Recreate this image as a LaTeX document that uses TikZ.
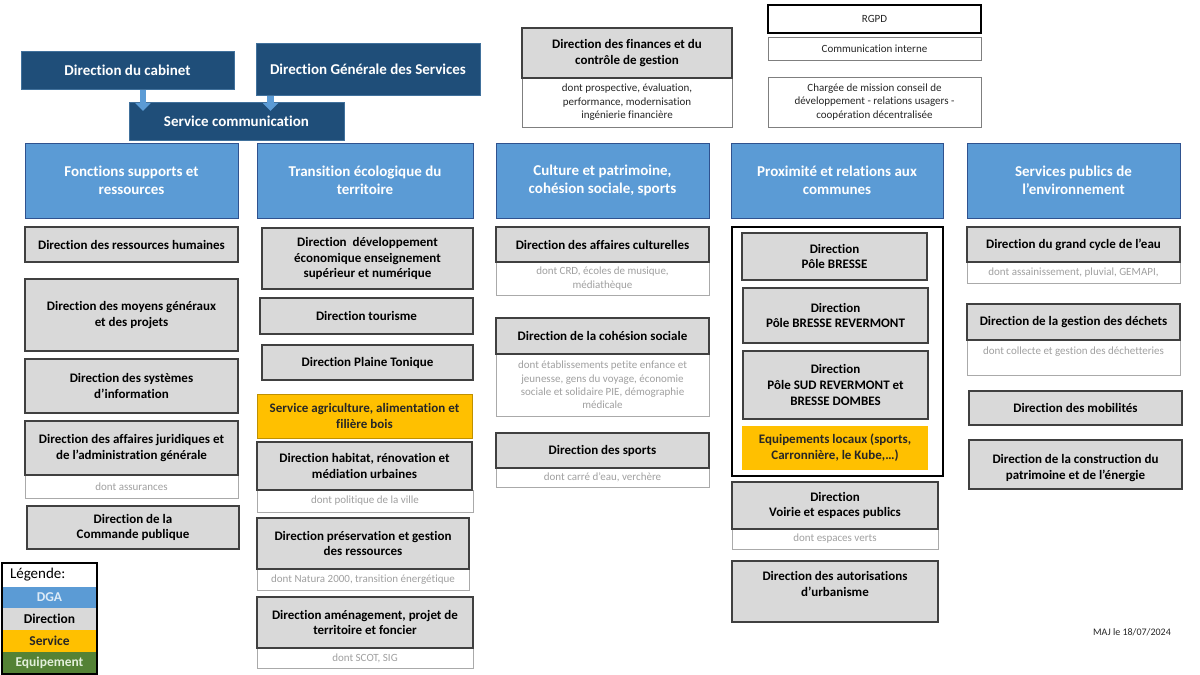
\documentclass[tikz,border=0pt]{standalone}
\usepackage{fontspec}
\setmainfont{Carlito}[Ligatures=NoCommon]
\usetikzlibrary{arrows.meta}
\definecolor{navy}{RGB}{31,78,121}
\definecolor{navyborder}{RGB}{65,113,156}
\definecolor{dgablue}{RGB}{91,155,213}
\definecolor{dgaborder}{RGB}{47,82,143}
\definecolor{dirgrey}{RGB}{217,217,217}
\definecolor{dirborder}{RGB}{64,64,64}
\definecolor{servyellow}{RGB}{255,192,0}
\definecolor{servborder}{RGB}{191,144,0}
\definecolor{descborder}{RGB}{170,170,170}
\definecolor{desctext}{RGB}{160,160,160}
\definecolor{noteborder}{RGB}{127,127,127}
\definecolor{darktext}{RGB}{38,38,38}
\definecolor{eqgreen}{RGB}{84,130,53}
\definecolor{eqtext}{RGB}{226,239,218}
\definecolor{dgatext}{RGB}{221,235,247}
\definecolor{arrowblue}{RGB}{91,155,213}
\newcommand\orgbox[7]{\node[#2, minimum width={(#5-#3)*1pt}, minimum height={(#6-#4)*1pt}] (#1) at ({(#3+#5)/2},{(#4+#6)/2}) {#7};}
\begin{document}
\begin{tikzpicture}[x=1pt,y=-1pt,
  base/.style={rectangle, inner sep=0pt, align=center},
  navybox/.style={base, fill=navy, draw=navyborder, line width=1pt, text=white, font=\fontsize{15}{18.3}\selectfont\bfseries},
  dgabox/.style={base, fill=dgablue, draw=dgaborder, line width=1pt, text=white, font=\fontsize{15}{18.3}\selectfont\bfseries},
  dirbox/.style={base, fill=dirgrey, draw=dirborder, line width=1.3pt, text=black, font=\fontsize{13}{15.9}\selectfont\bfseries},
  servbox/.style={base, fill=servyellow, draw=servborder, line width=0.8pt, text=darktext, font=\fontsize{13}{15.9}\selectfont\bfseries},
  descbox/.style={base, fill=white, draw=descborder, line width=1pt, text=desctext, font=\fontsize{11}{13.4}\selectfont},
  notebox/.style={base, fill=white, draw=noteborder, line width=1pt, text=darktext, font=\fontsize{11}{13.4}\selectfont},
  framebox/.style={base, draw=black, line width=1.2pt},
  legrow/.style={base, font=\fontsize{13.5}{16}\selectfont\bfseries},
  flowarrow/.style={draw=arrowblue, line width=6.5pt, -{Triangle[width=15pt,length=8pt]}}
]
\useasboundingbox (0,0) rectangle (1200,675);
\fill[white] (0,0) rectangle (1200,675);

% top
\orgbox{cab}{navybox}{21}{51}{234}{89}{Direction du cabinet}
\orgbox{dgs}{navybox}{256}{43}{480}{95}{Direction Générale des Services}
\orgbox{comm}{navybox}{129}{102}{344}{140}{Service communication}
\orgbox{findesc}{notebox}{522}{78}{732}{127}{dont prospective, évaluation,\\performance, modernisation\\ingénierie financière}
\orgbox{fin}{dirbox}{522}{28}{732}{78}{Direction des finances et du\\contrôle de gestion}
\orgbox{rgpd}{notebox, draw=black, line width=1.5pt}{768}{5}{981}{33}{RGPD}
\orgbox{comint}{notebox}{768}{37}{981}{60}{Communication interne}
\orgbox{charg}{notebox}{768}{77}{981}{127}{Chargée de mission conseil de\\développement - relations usagers -\\coopération décentralisée}

% column 1
\orgbox{dga1}{dgabox}{25}{143}{238}{218}{Fonctions supports et\\ressources}
\orgbox{drh}{dirbox}{25}{227}{238}{262}{Direction des ressources humaines}
\orgbox{dmg}{dirbox}{25}{279}{238}{351}{Direction des moyens généraux\\et des projets}
\orgbox{dsi}{dirbox}{25}{359}{238}{413}{Direction des systèmes\\d’information}
\orgbox{dajd}{descbox}{25}{475}{238}{498}{dont assurances}
\orgbox{daj}{dirbox}{25}{421}{238}{475}{Direction des affaires juridiques et\\de l’administration générale}
\orgbox{dcp}{dirbox}{27}{506}{239}{549}{Direction de la\\Commande publique}

% column 2
\orgbox{dga2}{dgabox}{257}{143}{473}{218}{Transition écologique du\\territoire}
\orgbox{deco}{dirbox}{262}{228}{473}{289}{Direction~ développement\\économique enseignement\\supérieur et numérique}
\orgbox{dtour}{dirbox}{260}{298}{473}{334}{Direction tourisme}
\orgbox{dplaine}{dirbox}{262}{345}{473}{380}{Direction Plaine Tonique}
\orgbox{sagri}{servbox}{257}{394}{472}{438}{Service agriculture, alimentation et\\filière bois}
\orgbox{dhabd}{descbox}{257}{490}{473}{512}{dont politique de la ville}
\orgbox{dhab}{dirbox}{257}{442}{472}{490}{Direction habitat, rénovation et\\médiation urbaines}
\orgbox{dpresd}{descbox}{257}{569}{469}{590}{dont Natura 2000, transition énergétique}
\orgbox{dpres}{dirbox}{257}{518}{469}{569}{Direction préservation et gestion\\des ressources}
\orgbox{damend}{descbox}{257}{648}{473}{668}{dont SCOT, SIG}
\orgbox{damen}{dirbox}{257}{597}{473}{648}{Direction aménagement, projet de\\territoire et foncier}

% column 3
\orgbox{dga3}{dgabox}{496}{143}{709}{218}{Culture et patrimoine,\\cohésion sociale, sports}
\orgbox{dcultd}{descbox}{496}{262}{709}{295}{dont CRD, écoles de musique,\\médiathèque}
\orgbox{dcult}{dirbox}{496}{227}{709}{262}{Direction des affaires culturelles}
\orgbox{dcohd}{descbox}{496}{354}{709}{416}{dont établissements petite enfance et\\jeunesse, gens du voyage, économie\\sociale et solidaire PIE, démographie\\médicale}
\orgbox{dcoh}{dirbox}{496}{318}{709}{354}{Direction de la cohésion sociale}
\orgbox{dspod}{descbox}{496}{468}{709}{487}{dont carré d’eau, verchère}
\orgbox{dspo}{dirbox}{496}{433}{709}{468}{Direction des sports}

% column 4
\orgbox{dga4}{dgabox}{731}{143}{943}{218}{Proximité et relations aux\\communes}
\orgbox{frame4}{framebox}{732}{227}{943}{476}{}
\orgbox{pb}{dirbox}{742}{233}{927}{280}{Direction\\Pôle BRESSE}
\orgbox{pbr}{dirbox}{743}{288}{928}{343}{Direction\\Pôle BRESSE REVERMONT}
\orgbox{psr}{dirbox}{743}{351}{928}{419}{Direction\\Pôle SUD REVERMONT et\\BRESSE DOMBES}
\orgbox{equip}{servbox, draw=none}{742}{426}{928}{470}{Equipements locaux (sports,\\Carronnière, le Kube,…)}
\orgbox{dvoid}{descbox}{732}{529}{938}{549}{dont espaces verts}
\orgbox{dvoi}{dirbox}{732}{482}{938}{529}{Direction\\Voirie et espaces publics}
\orgbox{daut}{dirbox}{732}{561}{938}{622}{Direction des autorisations\\d’urbanisme\\\mbox{}}

% column 5
\orgbox{dga5}{dgabox}{967}{143}{1180}{218}{Services publics de\\l’environnement}
\orgbox{deaud}{descbox}{967}{262}{1180}{283}{dont assainissement, pluvial, GEMAPI,}
\orgbox{deau}{dirbox}{967}{227}{1180}{262}{Direction du grand cycle de l’eau}
\orgbox{ddechd}{descbox}{967}{340}{1180}{375}{dont collecte et gestion des déchetteries\\\mbox{}}
\orgbox{ddech}{dirbox}{967}{304}{1180}{340}{Direction de la gestion des déchets}
\orgbox{dmob}{dirbox}{969}{391}{1182}{425}{Direction des mobilités}
\orgbox{dcons}{dirbox}{969}{440}{1182}{489}{\rule{0pt}{17pt}Direction de la construction du\\patrimoine et de l’énergie}

% legend
\orgbox{leg0}{base, fill=white, text width=79pt, align=left, font=\fontsize{15}{18}\selectfont}{2}{563}{97}{587}{Légende:}
\orgbox{leg1}{legrow, fill=dgablue, text=dgatext}{2}{587}{97}{608}{DGA}
\orgbox{leg2}{legrow, fill=dirgrey, text=black}{2}{608}{97}{630}{Direction}
\orgbox{leg3}{legrow, fill=servyellow, text=darktext}{2}{630}{97}{652}{Service}
\orgbox{leg4}{legrow, fill=eqgreen, text=eqtext}{2}{652}{97}{674}{Equipement}
\orgbox{legend}{framebox, line width=1.4pt}{2}{563}{97}{674}{}

\node[font=\fontsize{10}{12}\selectfont, text=darktext] (maj) at (1132,632) {MAJ le 18/07/2024};

% arrows
\coordinate (a1) at (143,111);
\coordinate (a2) at (270.5,111);
\draw[flowarrow] (cab.south -| a1) -- (a1);
\draw[flowarrow] (dgs.south -| a2) -- (a2);
\end{tikzpicture}
\end{document}
